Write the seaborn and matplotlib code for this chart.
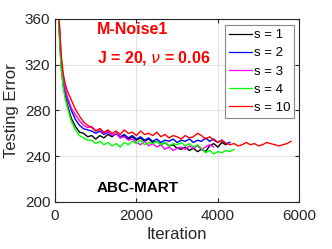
import pandas as pd
import matplotlib
matplotlib.use("Agg")
import matplotlib.pyplot as plt
import seaborn as sns

# Iteration positions (dense at the start, then every 100)
iters = [0, 25, 50, 75, 100, 150, 200, 250, 300] + list(range(400, 5900, 100))

# Testing error per series
err_s1 = [650, 520, 440, 385, 350, 318, 302, 292, 285,
          273, 266, 261, 260, 257, 258, 255, 258, 256, 259,
          257, 260, 256, 258, 255, 257, 254, 256, 253, 255,
          252, 253, 250, 252, 249, 250, 247, 246, 248, 245,
          247, 244, 246, 244, 249, 251, 248, 252, 250]
err_s2 = [650, 525, 445, 390, 355, 322, 306, 297, 290,
          280, 272, 267, 264, 263, 262, 260, 262, 259, 261,
          258, 260, 257, 259, 256, 258, 255, 257, 254, 256,
          253, 255, 252, 254, 253, 255, 252, 254, 253, 255,
          252, 254, 253, 256, 253, 255, 252, 254, 251, 252]
err_s3 = [655, 528, 448, 392, 356, 323, 308, 299, 292,
          282, 276, 271, 267, 265, 266, 262, 264, 260, 262,
          258, 260, 256, 257, 254, 255, 252, 250, 253, 249,
          251, 248, 250, 246, 248, 245, 247, 248, 246, 249,
          247, 249, 246, 248, 250, 248]
err_s4 = [640, 515, 435, 380, 348, 316, 300, 290, 283,
          270, 263, 258, 256, 254, 254, 251, 253, 250, 252,
          249, 251, 248, 252, 250, 253, 251, 254, 250, 252,
          251, 253, 250, 252, 249, 251, 250, 252, 249, 251,
          248, 250, 247, 243, 245, 242, 244, 243, 245, 244, 246]
err_s10 = [660, 530, 450, 395, 360, 328, 312, 303, 297,
           289, 281, 275, 270, 267, 265, 262, 264, 261, 263,
           260, 262, 259, 263, 260, 261, 258, 262, 259, 260,
           258, 261, 257, 259, 256, 258, 257, 255, 258, 256,
           257, 260, 258, 255, 257, 254, 252, 254, 251, 250,
           251, 249, 250, 252, 250, 251, 249, 250, 252, 251,
           250, 249, 250, 251, 253]

labels = ["s = 1", "s = 2", "s = 3", "s = 4", "s = 10"]
series = [err_s1, err_s2, err_s3, err_s4, err_s10]
colors = ["black", "blue", "magenta", "#00ff00", "red"]

plt.rcParams["font.family"] = ["Liberation Sans", "DejaVu Sans"]

rows = []
for lab, vals in zip(labels, series):
    for it, v in zip(iters, vals):
        rows.append({"Iteration": it, "Error": v, "s": lab})
df = pd.DataFrame(rows)

fig = plt.figure(figsize=(3.32, 2.49), dpi=100)
ax = fig.add_axes([0.166, 0.189, 0.735, 0.735])

sns.lineplot(data=df, x="Iteration", y="Error", hue="s", hue_order=labels,
             palette=colors, linewidth=1.0, ax=ax, legend=True)

ax.set_xlim(0, 6000)
ax.set_ylim(200, 360)
ax.set_xticks([0, 2000, 4000, 6000])
ax.set_yticks([200, 240, 280, 320, 360])
ax.grid(True, color="#e3e3e3", linewidth=0.8)
ax.set_axisbelow(True)
ax.tick_params(direction="in", length=3, labelsize=11, colors="#262626",
               top=True, right=True)
ax.tick_params(axis="x", pad=5)
for sp in ax.spines.values():
    sp.set_color("#262626")
    sp.set_linewidth(0.8)
ax.set_xlabel("Iteration", fontsize=12, color="#262626", labelpad=3)
ax.set_ylabel("Testing Error", fontsize=12, color="#262626")

ax.text(1030, 351, "M-Noise1", color="red", fontsize=11.5, fontweight="bold",
        ha="left", va="center")
ax.text(1030, 326, r"J = 20, $\nu$ = 0.06", color="red", fontsize=11.5,
        fontweight="bold", ha="left", va="center")
ax.text(1030, 212, "ABC-MART", color="black", fontsize=11, fontweight="bold",
        ha="left", va="center")

leg = ax.legend(loc="upper right", bbox_to_anchor=(0.98, 0.967), fontsize=9.5,
                handlelength=1.75, handletextpad=0.15, labelspacing=0.45,
                borderpad=0.3, borderaxespad=0.0, fancybox=False,
                framealpha=1, edgecolor="#888888")
leg.get_frame().set_linewidth(0.8)
for line in leg.get_lines():
    line.set_linewidth(0.9)

fig.savefig("out.png", dpi=100)
